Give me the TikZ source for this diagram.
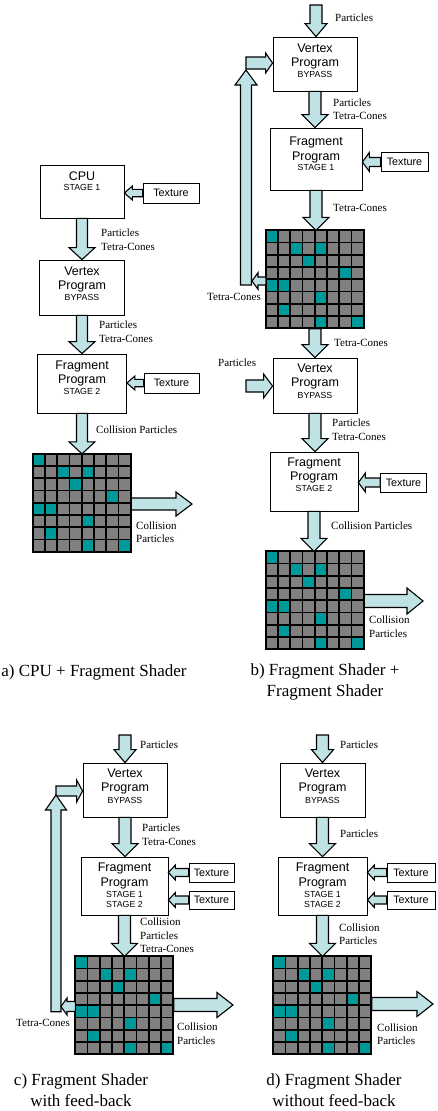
\documentclass[tikz,border=0pt]{standalone}
\usepackage{fontspec}
\setmainfont{Liberation Serif}
\newfontfamily\arialf{Liberation Sans}
\usetikzlibrary{calc}
\definecolor{arr}{RGB}{191,226,229}
\definecolor{cellg}{RGB}{128,128,128}
\definecolor{cellt}{RGB}{0,153,153}
\tikzset{
 box/.style={draw=black, line width=0.8pt, fill=white, inner sep=0pt, rectangle},
 btxt/.style={inner sep=0pt, anchor=north, align=center, font=\arialf\fontsize{12.5}{14}\selectfont},
 tex/.style={draw=black, line width=0.8pt, fill=white, inner sep=0pt, font=\arialf\fontsize{10.8}{12}\selectfont},
 lbl/.style={inner sep=0pt, anchor=west, align=left, font=\fontsize{11}{13.5}\selectfont},
 captxt/.style={inner sep=0pt, align=center, font=\fontsize{17}{21}\selectfont},
 blk/.style={draw=black, fill=arr, line width=1.1pt, line join=miter},
 gridsq/.style={minimum size=98pt, inner sep=0pt, draw=none},
}
\newcommand\sm{\arialf\fontsize{8.8}{14}\selectfont}
% vertical block arrow: from, to, shaft half, head half, head length
\newcommand\varr[5]{\draw[blk] let \p1=(#1), \p2=(#2), \n1={sign(\y1-\y2)} in
 (\x1-#3pt,\y1) -- (\x1+#3pt,\y1) -- (\x1+#3pt,\y2+\n1*#5pt) -- (\x1+#4pt,\y2+\n1*#5pt) -- (\x1,\y2) -- (\x1-#4pt,\y2+\n1*#5pt) -- (\x1-#3pt,\y2+\n1*#5pt) -- cycle;}
% horizontal block arrow
\newcommand\harr[5]{\draw[blk] let \p1=(#1), \p2=(#2), \n1={sign(\x1-\x2)} in
 (\x1,\y1-#3pt) -- (\x1,\y1+#3pt) -- (\x2+\n1*#5pt,\y1+#3pt) -- (\x2+\n1*#5pt,\y1+#4pt) -- (\x2,\y1) -- (\x2+\n1*#5pt,\y1-#4pt) -- (\x2+\n1*#5pt,\y1-#3pt) -- cycle;}
\newcommand\gridcells[1]{%
 \begin{scope}[shift={(#1.north west)}]
  \fill[cellg] (0,0) rectangle (98,98);
  \foreach \c/\r in {0/0,2/1,4/1,3/2,6/3,0/4,1/4,4/5,1/6,4/7,7/7}
    \fill[cellt] (\c*12.25,\r*12.25) rectangle ++(12.25,12.25);
  \foreach \i in {0,...,8}{
    \draw[line width=1.7pt, line cap=rect] (\i*12.25,0) -- (\i*12.25,98);
    \draw[line width=1.7pt, line cap=rect] (0,\i*12.25) -- (98,\i*12.25);}
 \end{scope}}
\begin{document}
\begin{tikzpicture}[x=1pt,y=-1pt]
\useasboundingbox (0,0) rectangle (437,1111);
% ---------------- panel a
\node[box, minimum width=84pt, minimum height=53pt] (cpu) at (82,191.5) {};
\node[btxt] (cpu-t) at ([yshift=-6.5pt]cpu.north) {CPU\\[-3.35pt]\sm STAGE 1};
\node[tex, minimum width=56pt, minimum height=20pt] (ta1) at (171,193) {Texture};
\node[box, minimum width=85pt, minimum height=55pt] (va) at (82,287.5) {};
\node[btxt] (va-t) at ([yshift=-7.5pt]va.north) {Vertex\\Program\\[-3.35pt]\sm BYPASS};
\node[box, minimum width=89pt, minimum height=59pt] (fa) at (82,383.5) {};
\node[btxt] (fa-t) at ([yshift=-7.5pt]fa.north) {Fragment\\Program\\[-3.35pt]\sm STAGE 2};
\node[tex, minimum width=55pt, minimum height=20pt] (ta2) at (171.5,383) {Texture};
\node[gridsq] (ga) at (82,503) {};
\gridcells{ga}
\coordinate (oa) at (192,504);
\varr{cpu.south}{va.north}{5.5}{13}{12}
\varr{va.south}{fa.north}{5.5}{13}{12}
\varr{fa.south}{ga.north}{5.5}{13}{12}
\harr{ta1.west}{cpu.east |- ta1.west}{3.7}{7}{8}
\harr{ta2.west}{fa.east |- ta2.west}{3.7}{7}{8}
\harr{ga.east |- oa}{oa}{6}{12}{16}
\node[lbl] (la1) at (101,239.5) {Particles\\Tetra-Cones};
\node[lbl] (la2) at (99,331.5) {Particles\\Tetra-Cones};
\node[lbl] (la3) at (96,430) {Collision Particles};
\node[lbl] (la4) at (136,532) {Collision\\Particles};
\node[captxt] (capa) at (94,672) {a) CPU + Fragment Shader};
% ---------------- panel b
\coordinate (ib) at (316,5);
\node[box, minimum width=84pt, minimum height=54pt] (vb1) at (315,64) {};
\node[btxt] (vb1-t) at ([yshift=-7.5pt]vb1.north) {Vertex\\Program\\[-3.35pt]\sm BYPASS};
\node[box, minimum width=92pt, minimum height=62pt] (fb1) at (316,159) {};
\node[btxt] (fb1-t) at ([yshift=-9.5pt]fb1.north) {Fragment\\[1pt]Program\\[-4.35pt]\sm STAGE 1};
\node[tex, minimum width=47pt, minimum height=19pt] (tb1) at (404.5,162) {Texture};
\node[gridsq] (gb1) at (315,279.5) {};
\gridcells{gb1}
\node[box, minimum width=84pt, minimum height=55pt] (vb2) at (315,385.5) {};
\node[btxt] (vb2-t) at ([yshift=-6.5pt]vb2.north) {Vertex\\Program\\[-2.35pt]\sm BYPASS};
\node[box, minimum width=88pt, minimum height=59pt] (fb2) at (314,481.5) {};
\node[btxt] (fb2-t) at ([yshift=-6.5pt]fb2.north) {Fragment\\Program\\[-3.35pt]\sm STAGE 2};
\node[tex, minimum width=46pt, minimum height=19pt] (tb2) at (403.5,482.5) {Texture};
\node[gridsq] (gb2) at (315,600.5) {};
\gridcells{gb2}
\coordinate (ob) at (423,601);
\coordinate (fbb) at (246,285);
\coordinate (fbt) at (246,70);
\coordinate (fbh) at (246,63);
\coordinate (gl) at (252,281);
\coordinate (pb) at (246,386);
\varr{ib}{vb1.north}{6}{11}{13}
\varr{vb1.south}{fb1.north}{6}{13}{13}
\harr{tb1.west}{fb1.east |- tb1.west}{4.5}{9.5}{7}
\varr{fb1.south}{gb1.north}{6}{13}{13}
\varr{gb1.south}{vb2.north}{6}{13}{13}
\harr{pb}{vb2.west |- pb}{6}{12}{9}
\varr{vb2.south}{fb2.north}{6}{13}{13}
\harr{tb2.west}{fb2.east |- tb2.west}{4.5}{9.5}{7}
\varr{fb2.south}{gb2.north}{6}{13}{13}
\harr{gb2.east |- ob}{ob}{6.5}{13}{16}
\harr{fbh}{vb1.west |- fbh}{6}{10}{7}
\varr{fbb}{fbt}{5.5}{11}{15}
\harr{gb1.west |- gl}{gl}{4}{8.3}{6}
\node[lbl] (lb0) at (335,18) {Particles};
\node[lbl] (lb1) at (333,109) {Particles\\Tetra-Cones};
\node[lbl] (lb2) at (333,208) {Tetra-Cones};
\node[lbl] (lb3) at (334,343) {Tetra-Cones};
\node[lbl, anchor=east] (lb4) at (261,297) {Tetra-Cones};
\node[lbl] (lb5) at (218,363) {Particles};
\node[lbl] (lb6) at (332,429.5) {Particles\\Tetra-Cones};
\node[lbl] (lb7) at (331,526) {Collision Particles};
\node[lbl] (lb8) at (369,626.5) {Collision\\Particles};
\node[captxt] (capb) at (325,681.5) {b) Fragment Shader +\\Fragment Shader};
% ---------------- panel c
\coordinate (ic) at (125,735);
\node[box, minimum width=84pt, minimum height=54pt] (vc) at (125,790) {};
\node[btxt] (vc-t) at ([yshift=-6.5pt]vc.north) {Vertex\\Program\\[-2.35pt]\sm BYPASS};
\node[box, minimum width=87pt, minimum height=58pt] (fc) at (124.5,886) {};
\node[btxt] (fc-t) at ([yshift=-6.5pt]fc.north) {Fragment\\[1pt]Program\\[-3.35pt]\sm STAGE 1\\[-4pt]\sm STAGE 2};
\node[tex, minimum width=45pt, minimum height=19pt] (tc1) at (211.5,872.5) {Texture};
\node[tex, minimum width=45pt, minimum height=18pt] (tc2) at (211.5,900) {Texture};
\node[gridsq] (gc) at (124.5,1005.5) {};
\gridcells{gc}
\coordinate (oc) at (233,1005);
\coordinate (fcb) at (56,1011.7);
\coordinate (fct) at (56,795);
\coordinate (fch) at (56,791);
\coordinate (gcl) at (61,1006.5);
\varr{ic}{vc.north}{6}{11}{13}
\varr{vc.south}{fc.north}{6}{13}{13}
\harr{tc1.west}{fc.east |- tc1.west}{4}{7.5}{7}
\harr{tc2.west}{fc.east |- tc2.west}{4}{7.5}{7}
\varr{fc.south}{gc.north}{6}{13}{13}
\harr{gc.east |- oc}{oc}{6.5}{12.5}{16}
\harr{fch}{vc.west |- fch}{5}{11}{6}
\varr{fcb}{fct}{5}{10.5}{15}
\harr{gc.west |- gcl}{gcl}{5}{8.5}{6}
\node[lbl] (lc0) at (140,745) {Particles};
\node[lbl] (lc1) at (142,834.5) {Particles\\Tetra-Cones};
\node[lbl] (lc2) at (140,935.5) {Collision\\Particles\\Tetra-Cones};
\node[lbl, anchor=east] (lc3) at (70,1023) {Tetra-Cones};
\node[lbl] (lc4) at (177,1033.5) {Collision\\Particles};
\node[captxt] (capc) at (81,1090) {c) Fragment Shader\\with feed-back};
% ---------------- panel d
\coordinate (id) at (322.5,735);
\node[box, minimum width=85pt, minimum height=54pt] (vd) at (322.5,790) {};
\node[btxt] (vd-t) at ([yshift=-6.5pt]vd.north) {Vertex\\Program\\[-2.35pt]\sm BYPASS};
\node[box, minimum width=89pt, minimum height=58pt] (fd) at (322.5,886) {};
\node[btxt] (fd-t) at ([yshift=-6.5pt]fd.north) {Fragment\\[1pt]Program\\[-3.35pt]\sm STAGE 1\\[-4pt]\sm STAGE 2};
\node[tex, minimum width=48pt, minimum height=19pt] (td1) at (411,872.5) {Texture};
\node[tex, minimum width=48pt, minimum height=18pt] (td2) at (411,900) {Texture};
\node[gridsq] (gd) at (322.5,1005.5) {};
\gridcells{gd}
\coordinate (od) at (433,1004);
\varr{id}{vd.north}{6}{11}{13}
\varr{vd.south}{fd.north}{6}{13}{13}
\harr{td1.west}{fd.east |- td1.west}{4}{7.5}{7}
\harr{td2.west}{fd.east |- td2.west}{4}{7.5}{7}
\varr{fd.south}{gd.north}{6}{13}{13}
\harr{gd.east |- od}{od}{6.5}{12.5}{16}
\node[lbl] (ld0) at (340,745) {Particles};
\node[lbl] (ld1) at (340,834) {Particles};
\node[lbl] (ld2) at (339,934) {Collision\\Particles};
\node[lbl] (ld3) at (377,1034) {Collision\\Particles};
\node[captxt] (capd) at (334,1090) {d) Fragment Shader\\without feed-back};
\end{tikzpicture}
\end{document}
